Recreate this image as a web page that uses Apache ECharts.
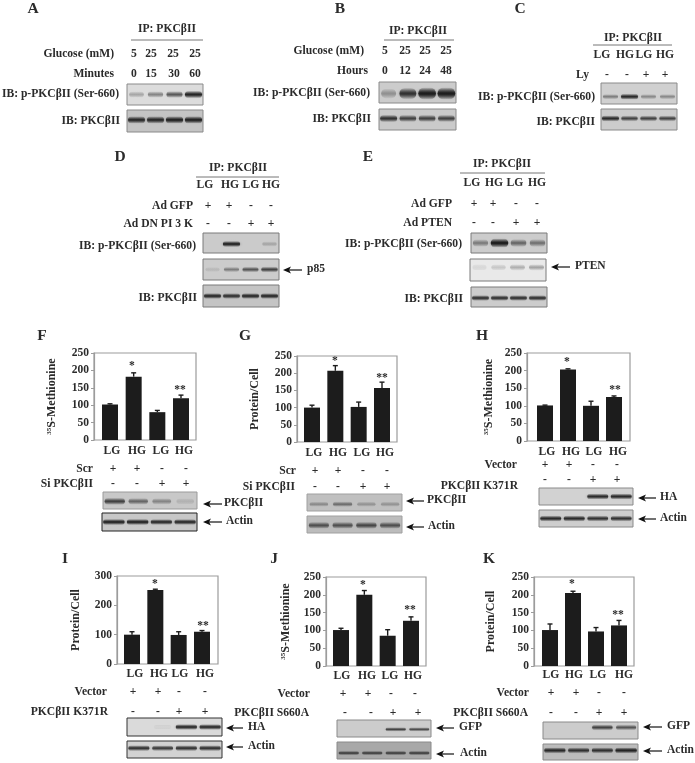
<!DOCTYPE html>
<html>
<head>
<meta charset="utf-8">
<title>PKC blots</title>
<script src="https://cdn.jsdelivr.net/npm/echarts@6/dist/echarts.min.js"></script>
<style>
  html, body { margin: 0; padding: 0; background: #fff; }
  #chart { width: 695px; height: 763px; }
</style>
</head>
<body>
<div id="chart"></div>
<script>
// bar values
const lanes = ['LG', 'HG', 'LG', 'HG']
const valuesF = [102, 182, 80, 120]
const errorsF = [104, 193, 85, 129]
const valuesG = [100, 207, 102, 157]
const errorsG = [107, 222, 116, 174]
const valuesH = [101, 203, 100, 125]
const errorsH = [102, 205, 113, 128]
const valuesI = [100, 252, 99, 110]
const errorsI = [110, 255, 110, 114]
const valuesJ = [101, 200, 85, 127]
const errorsJ = [106, 212, 102, 138]
const valuesK = [101, 205, 97, 114]
const errorsK = [118, 210, 108, 128]
const ticks250 = [0, 250, 50]
const ticks300 = [0, 300, 100]

// band strength per lane, 0 = nothing, 1 = darkest
const bandsA1 = [0.25, 0.4, 0.6, 0.9]
const bandsA2 = [0.85, 0.85, 0.9, 0.9]
const bandsB1 = [0.3, 0.8, 1, 1]
const bandsB2 = [0.8, 0.7, 0.7, 0.7]
const bandsC1 = [0.4, 0.85, 0.35, 0.35]
const bandsC2 = [0.85, 0.7, 0.7, 0.7]
const bandsD1 = [0, 0.9, 0, 0.2]
const bandsD2 = [0.1, 0.4, 0.6, 0.7]
const bandsD3 = [0.85, 0.8, 0.85, 0.85]
const bandsE1 = [0.4, 1, 0.5, 0.45]
const bandsE2 = [0.08, 0.15, 0.25, 0.3]
const bandsE3 = [0.8, 0.8, 0.8, 0.8]
const bandsF1 = [0.7, 0.5, 0.35, 0.12]
const bandsF2 = [0.9, 0.9, 0.85, 0.85]
const bandsG1 = [0.3, 0.45, 0.25, 0.25]
const bandsG2 = [0.6, 0.6, 0.65, 0.6]
const bandsH1 = [0, 0, 0.85, 0.85]
const bandsH2 = [0.85, 0.85, 0.8, 0.8]
const bandsI1 = [0, 0.03, 0.85, 0.85]
const bandsI2 = [0.8, 0.75, 0.8, 0.8]
const bandsJ1 = [0, 0, 0.7, 0.65]
const bandsJ2 = [0.7, 0.7, 0.7, 0.7]
const bandsK1 = [0, 0, 0.7, 0.6]
const bandsK2 = [0.85, 0.8, 0.8, 0.9]

const PKC = 'PKCβII'
const IB_P = 'IB: p-PKCβII (Ser-660)'
const IB_T = 'IB: PKCβII'
const IP = 'IP: PKCβII'
const SERIF = '"Liberation Serif", "Times New Roman", serif'
const INK = '#2b2b2b'

// blot panels: [left, top, right, bottom, background, border, band y (0 top - 1 bottom), thickness, bands]
const blots = [
  [127, 84, 203, 105, '#dcdcdc', '#8a8a8a', 0.5, 5, bandsA1],
  [127, 110, 203, 132, '#c4c4c4', '#8a8a8a', 0.45, 5, bandsA2],
  [379, 82, 456, 103, '#cccccc', '#8a8a8a', 0.55, 8, bandsB1],
  [379, 109, 456, 130, '#cacaca', '#8a8a8a', 0.45, 5, bandsB2],
  [601, 83, 677, 104, '#d0d0d0', '#8a8a8a', 0.65, 4, bandsC1],
  [601, 109, 677, 130, '#cccccc', '#8a8a8a', 0.45, 4, bandsC2],
  [203, 233, 279, 253, '#cbcbcb', '#7a7a7a', 0.55, 4, bandsD1],
  [203, 259, 279, 280, '#cccccc', '#7a7a7a', 0.5, 4, bandsD2],
  [203, 285, 279, 307, '#c4c4c4', '#7a7a7a', 0.5, 4, bandsD3],
  [471, 233, 547, 253, '#cccccc', '#7a7a7a', 0.5, 6, bandsE1],
  [470, 259, 546, 281, '#e9e9e9', '#7a7a7a', 0.38, 5, bandsE2],
  [471, 287, 547, 307, '#cccccc', '#7a7a7a', 0.55, 4, bandsE3],
  [103, 492, 197, 509, '#c8c8c8', '#9a9a9a', 0.55, 5, bandsF1],
  [102, 513, 197, 531, '#c8c8c8', '#222222', 0.5, 4, bandsF2],
  [307, 494, 402, 511, '#c0c0c0', '#a0a0a0', 0.6, 4, bandsG1],
  [307, 516, 402, 533, '#bcbcbc', '#a0a0a0', 0.55, 5, bandsG2],
  [539, 488, 633, 505, '#d2d2d2', '#8a8a8a', 0.5, 4, bandsH1],
  [539, 510, 633, 527, '#cecece', '#8a8a8a', 0.5, 4, bandsH2],
  [127, 718, 222, 736, '#dadada', '#333333', 0.5, 4, bandsI1],
  [127, 741, 222, 758, '#d2d2d2', '#333333', 0.42, 4, bandsI2],
  [337, 720, 431, 737, '#cccccc', '#8a8a8a', 0.55, 3, bandsJ1],
  [337, 742, 431, 759, '#a8a8a8', '#8a8a8a', 0.65, 3, bandsJ2],
  [543, 722, 638, 739, '#cccccc', '#8a8a8a', 0.32, 4, bandsK1],
  [543, 744, 638, 760, '#bcbcbc', '#8a8a8a', 0.4, 4, bandsK2]
]

// bar panels: frame, first and last bar centre, y title
const plots = [
  { frame: [94, 353, 196, 440], bars: [110, 181], ticks: ticks250, values: valuesF, errors: errorsF, title: '{s|35}S-Methionine', titleX: 58 },
  { frame: [297, 356, 397, 442], bars: [312, 382], ticks: ticks250, values: valuesG, errors: errorsG, title: 'Protein/Cell', titleX: 261 },
  { frame: [527, 353, 630, 441], bars: [545, 614], ticks: ticks250, values: valuesH, errors: errorsH, title: '{s|35}S-Methionine', titleX: 495 },
  { frame: [117, 576, 218, 664], bars: [132, 202], ticks: ticks300, values: valuesI, errors: errorsI, title: 'Protein/Cell', titleX: 82 },
  { frame: [326, 577, 426, 666], bars: [341, 411], ticks: ticks250, values: valuesJ, errors: errorsJ, title: '{s|35}S-Methionine', titleX: 292 },
  { frame: [534, 577, 634, 666], bars: [550, 619], ticks: ticks250, values: valuesK, errors: errorsK, title: 'Protein/Cell', titleX: 497 }
]

const graphic = []

function text(x, y, str, align, size) {
  graphic.push({
    type: 'text',
    x: x,
    y: y,
    silent: true,
    style: {
      text: str,
      font: 'bold ' + (size || 11.6) + 'px ' + SERIF,
      fill: INK,
      align: align || 'center',
      verticalAlign: 'middle'
    }
  })
}

function row(y, xs, labels) {
  xs.forEach((x, i) => text(x, y, labels[i]))
}

function rule(x1, x2, y) {
  graphic.push({
    type: 'line',
    silent: true,
    shape: { x1: x1, y1: y, x2: x2, y2: y },
    style: { stroke: '#777', lineWidth: 1 }
  })
}

function arrow(x1, x2, y, label, labelX) {
  graphic.push({
    type: 'line',
    silent: true,
    shape: { x1: x1 + 5, y1: y, x2: x2, y2: y },
    style: { stroke: '#111', lineWidth: 1.2 }
  })
  graphic.push({
    type: 'polygon',
    silent: true,
    shape: { points: [[x1, y], [x1 + 8, y - 3.5], [x1 + 6, y], [x1 + 8, y + 3.5]] },
    style: { fill: '#111' }
  })
  text(labelX, y - 0.5, label, 'left', 11.5)
}

// panel letters
text(33, 9, 'A', 'center', 15.5)
text(340, 9, 'B', 'center', 15.5)
text(520, 9, 'C', 'center', 15.5)
text(120, 157, 'D', 'center', 15.5)
text(368, 157, 'E', 'center', 15.5)
text(42, 336, 'F', 'center', 15.5)
text(245, 336, 'G', 'center', 15.5)
text(482, 336, 'H', 'center', 15.5)
text(65, 559, 'I', 'center', 15.5)
text(274, 559, 'J', 'center', 15.5)
text(489, 559, 'K', 'center', 15.5)

// A
text(167, 29, IP); rule(131, 203, 40)
text(114, 54, 'Glucose (mM)', 'right'); row(54, [134, 151, 173, 195], ['5', '25', '25', '25'])
text(114, 74, 'Minutes', 'right'); row(74, [134, 151, 174, 195], ['0', '15', '30', '60'])
text(119, 94, IB_P, 'right'); text(120, 121, IB_T, 'right')
// B
text(418, 31, IP); rule(384, 454, 40)
text(364, 51, 'Glucose (mM)', 'right'); row(51, [385, 405, 425, 446], ['5', '25', '25', '25'])
text(368, 71, 'Hours', 'right'); row(71, [385, 405, 425, 446], ['0', '12', '24', '48'])
text(370, 93, IB_P, 'right'); text(371, 119, IB_T, 'right')
// C
text(633, 38, IP); rule(593, 672, 45)
row(55, [602, 625, 644, 665], lanes)
text(589, 75, 'Ly', 'right'); row(75, [607, 627, 646, 665], ['-', '-', '+', '+'])
text(595, 97, IB_P, 'right'); text(595, 122, IB_T, 'right')
// D
text(238, 168, IP); rule(196, 279, 177)
row(185, [205, 230, 251, 271], lanes)
text(193, 206, 'Ad GFP', 'right'); row(206, [208, 229, 251, 271], ['+', '+', '-', '-'])
text(193, 224, 'Ad DN PI 3 K', 'right'); row(224, [208, 229, 251, 271], ['-', '-', '+', '+'])
text(196, 246, IB_P, 'right'); text(197, 298, IB_T, 'right')
arrow(283, 302, 270, 'p85', 307)
// E
text(502, 164, IP); rule(460, 545, 173)
row(183, [472, 494, 515, 537], lanes)
text(452, 204, 'Ad GFP', 'right'); row(204, [474, 493, 516, 537], ['+', '+', '-', '-'])
text(452, 223, 'Ad PTEN', 'right'); row(223, [474, 493, 516, 537], ['-', '-', '+', '+'])
text(462, 244, IB_P, 'right'); text(463, 299, IB_T, 'right')
arrow(551, 570, 267, 'PTEN', 575)
// F
row(451, [112, 137, 161, 184], lanes)
text(93, 469, 'Scr', 'right'); row(469, [113, 137, 162, 186], ['+', '+', '-', '-'])
text(93, 484, 'Si ' + PKC, 'right'); row(484, [113, 137, 162, 186], ['-', '-', '+', '+'])
arrow(203, 222, 504, PKC, 224); arrow(203, 222, 522, 'Actin', 226)
text(132, 366, '*'); text(180, 390, '**')
// G
row(453, [314, 338, 362, 385], lanes)
text(296, 471, 'Scr', 'right'); row(471, [315, 338, 363, 387], ['+', '+', '-', '-'])
text(295, 487, 'Si ' + PKC, 'right'); row(487, [315, 338, 363, 387], ['-', '-', '+', '+'])
arrow(406, 424, 501, PKC, 427); arrow(406, 424, 527, 'Actin', 428)
text(335, 361, '*'); text(382, 378, '**')
// H
row(452, [547, 571, 594, 618], lanes)
text(517, 465, 'Vector', 'right'); row(465, [545, 569, 593, 617], ['+', '+', '-', '-'])
text(518, 486, PKC + ' K371R', 'right'); row(480, [545, 569, 593, 617], ['-', '-', '+', '+'])
arrow(638, 656, 498, 'HA', 660); arrow(638, 656, 519, 'Actin', 660)
text(567, 362, '*'); text(615, 390, '**')
// I
row(674, [135, 159, 180, 205], lanes)
text(107, 692, 'Vector', 'right'); row(692, [133, 158, 179, 205], ['+', '+', '-', '-'])
text(108, 712, PKC + ' K371R', 'right'); row(712, [133, 158, 179, 205], ['-', '-', '+', '+'])
arrow(226, 243, 728, 'HA', 248); arrow(226, 243, 747, 'Actin', 248)
text(155, 584, '*'); text(203, 626, '**')
// J
row(676, [342, 367, 390, 413], lanes)
text(310, 694, 'Vector', 'right'); row(694, [343, 368, 391, 415], ['+', '+', '-', '-'])
text(309, 713, PKC + ' S660A', 'right'); row(713, [345, 371, 393, 418], ['-', '-', '+', '+'])
arrow(436, 454, 728, 'GFP', 459); arrow(436, 454, 754, 'Actin', 460)
text(363, 585, '*'); text(410, 610, '**')
// K
row(675, [551, 574, 598, 624], lanes)
text(529, 693, 'Vector', 'right'); row(693, [551, 576, 599, 624], ['+', '+', '-', '-'])
text(528, 713, PKC + ' S660A', 'right'); row(713, [551, 576, 599, 624], ['-', '-', '+', '+'])
arrow(643, 662, 727, 'GFP', 667); arrow(643, 662, 751, 'Actin', 667)
text(572, 584, '*'); text(618, 615, '**')

const grids = []
const xAxes = []
const yAxes = []
const series = []

// bar charts, the grid only spans the bars so the spacing follows the picture
plots.forEach(p => {
  const [fl, ft, fr, fb] = p.frame
  const step = (p.bars[1] - p.bars[0]) / 3
  const left = p.bars[0] - step / 2
  const idx = grids.length
  graphic.push({
    type: 'rect',
    silent: true,
    shape: { x: fl, y: ft, width: fr - fl, height: fb - ft },
    style: { fill: 'none', stroke: '#9c9c9c', lineWidth: 1.2 }
  })
  grids.push({ left: left, top: ft, width: step * 4, height: fb - ft })
  xAxes.push({
    gridIndex: idx,
    type: 'category',
    data: lanes.map((l, i) => l + (i + 1)),
    axisLine: { show: false },
    axisTick: { show: false },
    axisLabel: { show: false }
  })
  yAxes.push({
    gridIndex: idx,
    type: 'value',
    min: p.ticks[0],
    max: p.ticks[1],
    interval: p.ticks[2],
    offset: left - fl,
    name: p.title,
    nameLocation: 'middle',
    nameGap: fl - p.titleX,
    nameRotate: 90,
    nameTextStyle: {
      fontFamily: SERIF,
      fontWeight: 'bold',
      fontSize: 12,
      color: INK,
      rich: {
        s: { fontFamily: SERIF, fontWeight: 'bold', fontSize: 7, color: INK, verticalAlign: 'top' }
      }
    },
    splitLine: { show: false },
    axisLine: { show: true, lineStyle: { color: '#9c9c9c', width: 1.2 } },
    axisTick: { show: true, length: 3, lineStyle: { color: '#9c9c9c' } },
    axisLabel: { margin: 5, fontFamily: SERIF, fontWeight: 'bold', fontSize: 11.5, color: INK }
  })
  series.push({
    type: 'bar',
    xAxisIndex: idx,
    yAxisIndex: idx,
    barWidth: 16,
    itemStyle: { color: '#1c1c1c' },
    silent: true,
    data: p.values
  })
  series.push({
    type: 'custom',
    xAxisIndex: idx,
    yAxisIndex: idx,
    silent: true,
    data: p.errors.map((e, i) => [i, p.values[i], e]),
    renderItem: (params, api) => {
      const low = api.coord([api.value(0), api.value(1)])
      const high = api.coord([api.value(0), api.value(2)])
      const style = { stroke: '#1c1c1c', lineWidth: 1.4 }
      return {
        type: 'group',
        children: [
          { type: 'line', shape: { x1: low[0], y1: low[1], x2: low[0], y2: high[1] }, style: style },
          { type: 'line', shape: { x1: low[0] - 2.5, y1: high[1], x2: low[0] + 2.5, y2: high[1] }, style: style }
        ]
      }
    }
  })
})

// blots, one small grid each with four lanes
blots.forEach(b => {
  const [l, t, r, btm, bg, border, bandY, thick, bands] = b
  const idx = grids.length
  grids.push({
    left: l,
    top: t,
    width: r - l,
    height: btm - t,
    show: true,
    backgroundColor: bg,
    borderColor: border,
    borderWidth: 1
  })
  xAxes.push({ gridIndex: idx, type: 'category', data: lanes.map((n, i) => n + (i + 1)), show: false })
  yAxes.push({ gridIndex: idx, type: 'value', min: 0, max: 1, inverse: true, show: false, splitLine: { show: false } })
  series.push({
    type: 'custom',
    xAxisIndex: idx,
    yAxisIndex: idx,
    silent: true,
    clip: true,
    data: bands.map((v, i) => [i, bandY, v]),
    renderItem: (params, api) => {
      const strength = api.value(2)
      if (!strength) return null
      const c = api.coord([api.value(0), api.value(1)])
      const laneW = api.size([1, 0])[0]
      const w = laneW * (0.72 + 0.2 * strength)
      const h = thick * (1 + 0.5 * strength)
      const dark = 'rgba(25,25,25,' + Math.min(0.95, strength) + ')'
      return {
        type: 'rect',
        shape: { x: c[0] - w / 2, y: c[1] - h / 2, width: w, height: h, r: h / 2 },
        style: {
          shadowBlur: 3,
          shadowColor: 'rgba(25,25,25,' + strength * 0.45 + ')',
          fill: {
            type: 'linear',
            x: 0, y: 0, x2: 0, y2: 1,
            colorStops: [
              { offset: 0, color: 'rgba(25,25,25,0.05)' },
              { offset: 0.45, color: dark },
              { offset: 0.55, color: dark },
              { offset: 1, color: 'rgba(25,25,25,0.05)' }
            ]
          }
        }
      }
    }
  })
})

const chart = echarts.init(document.getElementById('chart'), null, { renderer: 'canvas' })
chart.setOption({
  backgroundColor: '#ffffff',
  animation: false,
  tooltip: { show: false },
  grid: grids,
  xAxis: xAxes,
  yAxis: yAxes,
  series: series,
  graphic: { elements: graphic }
})
</script>
</body>
</html>
